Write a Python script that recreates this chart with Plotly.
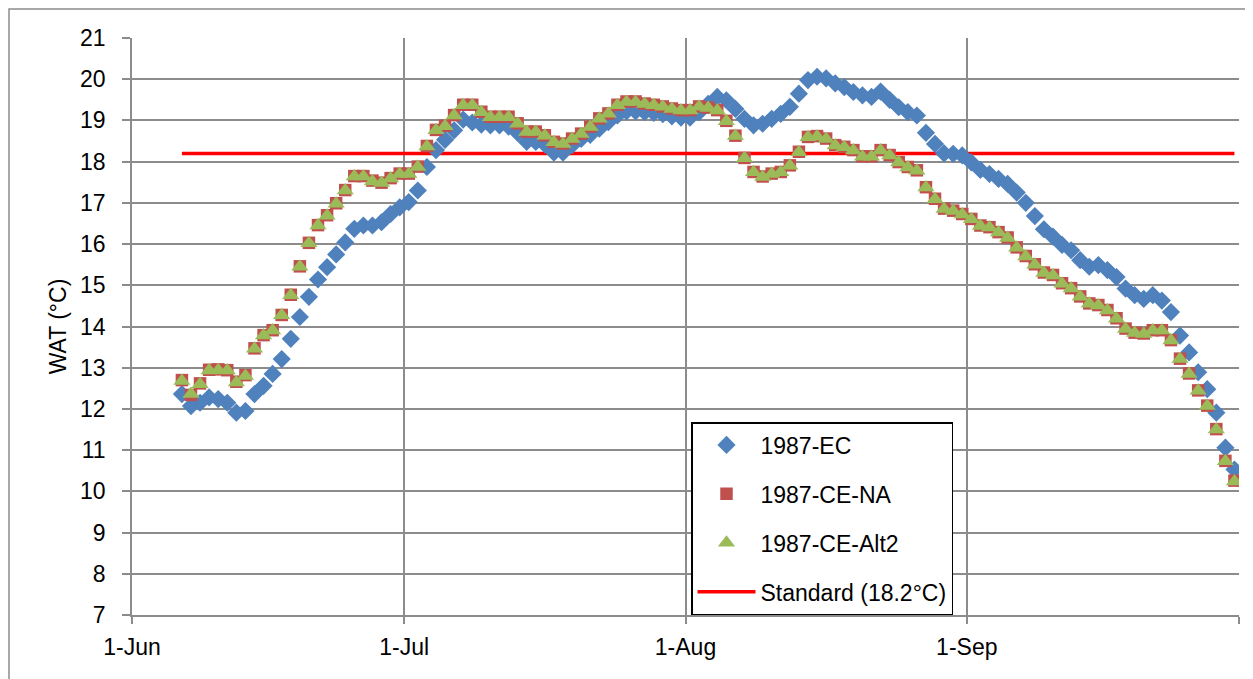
import pandas as pd
import plotly.graph_objects as go

start_date = "1987-06-06 12:00"

ec = [12.36, 12.07, 12.15, 12.28, 12.24, 12.15, 11.91, 11.95, 12.36, 12.56,
      12.85, 13.21, 13.70, 14.23, 14.72, 15.14, 15.44, 15.75, 16.04, 16.37,
      16.45, 16.45, 16.53, 16.73, 16.89, 17.02, 17.30, 17.87, 18.28, 18.53,
      18.76, 19.02, 18.95, 18.90, 18.88, 18.88, 18.85, 18.70, 18.48, 18.48,
      18.42, 18.22, 18.22, 18.40, 18.55, 18.65, 18.80, 18.96, 19.12, 19.22,
      19.22, 19.20, 19.18, 19.15, 19.10, 19.07, 19.07, 19.20, 19.40, 19.57,
      19.49, 19.28, 19.04, 18.88, 18.92, 19.04, 19.16, 19.33, 19.65, 19.98,
      20.06, 20.02, 19.90, 19.81, 19.69, 19.61, 19.57, 19.70, 19.50, 19.32,
      19.20, 19.12, 18.70, 18.43, 18.20, 18.19, 18.15, 17.98, 17.80, 17.70,
      17.58, 17.46, 17.25, 17.00, 16.68, 16.36, 16.18, 15.98, 15.85, 15.61,
      15.45, 15.49, 15.37, 15.20, 14.92, 14.76, 14.67, 14.76, 14.63, 14.35,
      13.78, 13.37, 12.89, 12.48, 11.91, 11.06, 10.53]

ce_na = [12.70, 12.34, 12.62, 12.95, 12.96, 12.94, 12.66, 12.82, 13.47, 13.79,
         13.91, 14.28, 14.77, 15.46, 16.03, 16.46, 16.70, 16.99, 17.31, 17.65,
         17.65, 17.54, 17.49, 17.60, 17.71, 17.71, 17.88, 18.38, 18.77, 18.87,
         19.13, 19.38, 19.38, 19.21, 19.09, 19.09, 19.09, 18.93, 18.73, 18.73,
         18.64, 18.48, 18.44, 18.56, 18.68, 18.85, 19.05, 19.17, 19.38, 19.46,
         19.46, 19.41, 19.38, 19.34, 19.29, 19.25, 19.25, 19.34, 19.31, 19.25,
         18.99, 18.63, 18.09, 17.75, 17.64, 17.71, 17.75, 17.91, 18.24, 18.60,
         18.62, 18.56, 18.40, 18.36, 18.28, 18.13, 18.13, 18.28, 18.16, 17.99,
         17.87, 17.79, 17.38, 17.10, 16.86, 16.81, 16.73, 16.61, 16.45, 16.41,
         16.29, 16.16, 15.92, 15.71, 15.51, 15.31, 15.25, 15.05, 14.93, 14.73,
         14.56, 14.52, 14.40, 14.20, 13.95, 13.85, 13.83, 13.91, 13.91, 13.67,
         13.22, 12.86, 12.45, 12.08, 11.51, 10.74, 10.26]

ce_alt2 = [12.68, 12.36, 12.60, 12.93, 12.94, 12.93, 12.64, 12.80, 13.46, 13.78,
           13.90, 14.27, 14.76, 15.45, 16.02, 16.45, 16.69, 16.98, 17.30, 17.64,
           17.64, 17.52, 17.48, 17.59, 17.70, 17.70, 17.87, 18.37, 18.76, 18.86,
           19.12, 19.37, 19.37, 19.20, 19.08, 19.08, 19.08, 18.92, 18.72, 18.72,
           18.63, 18.47, 18.43, 18.55, 18.67, 18.84, 19.04, 19.16, 19.37, 19.45,
           19.45, 19.40, 19.37, 19.33, 19.28, 19.24, 19.24, 19.33, 19.30, 19.24,
           18.98, 18.62, 18.08, 17.74, 17.63, 17.70, 17.74, 17.90, 18.23, 18.59,
           18.61, 18.55, 18.39, 18.35, 18.27, 18.12, 18.12, 18.27, 18.15, 17.98,
           17.86, 17.78, 17.37, 17.09, 16.85, 16.80, 16.72, 16.60, 16.44, 16.40,
           16.28, 16.15, 15.91, 15.70, 15.50, 15.30, 15.24, 15.04, 14.92, 14.72,
           14.55, 14.51, 14.39, 14.19, 13.94, 13.84, 13.82, 13.90, 13.90, 13.66,
           13.21, 12.85, 12.44, 12.07, 11.50, 10.73, 10.24]

standard_value = 18.2

tick_dates = ["1987-06-01", "1987-07-01", "1987-08-01", "1987-09-01", "1987-10-01"]
tick_labels = ["1-Jun", "1-Jul", "1-Aug", "1-Sep", ""]

dates = pd.date_range(start_date, periods=len(ec), freq="D")

FONT = "Liberation Sans"
GRID = "#8c8c8c"

fig = go.Figure()

fig.add_trace(go.Scatter(
    x=dates, y=[standard_value] * len(dates), mode="lines",
    name="Standard (18.2°C)", line=dict(color="#FF0000", width=3.5),
    legendgroup="d", legendrank=4))
fig.add_trace(go.Scatter(
    x=dates, y=ec, mode="markers", name="1987-EC",
    marker=dict(symbol="diamond", size=14, color="#4F81BD"),
    legendgroup="a", legendrank=1))
fig.add_trace(go.Scatter(
    x=dates, y=ce_na, mode="markers", name="1987-CE-NA",
    marker=dict(symbol="square", size=12.5, color="#C0504D"),
    legendgroup="b", legendrank=2))
fig.add_trace(go.Scatter(
    x=dates, y=ce_alt2, mode="markers", name="1987-CE-Alt2",
    marker=dict(symbol="triangle-up", size=15, color="#9BBB59"),
    legendgroup="c", legendrank=3))

# page body offset (browser default margin)
OFF = 8
# target plot area in screenshot pixels
PX0, PX1, PY0, PY1 = 132, 1239, 38, 615
W, H = 1253 - OFF, 679 - OFF
L, T = PX0 - OFF, PY0 - OFF
R, B = W - (PX1 - OFF), H - (PY1 - OFF)
pw, ph = PX1 - PX0, PY1 - PY0


def px(xs):
    return (xs - PX0) / pw


def py(ys):
    return (PY1 - ys) / ph


fig.update_layout(
    width=W, height=H,
    margin=dict(l=L, r=R, t=T, b=B, pad=0),
    paper_bgcolor="white", plot_bgcolor="white",
    font=dict(family=FONT, size=23, color="black"),
    showlegend=True,
    legend=dict(
        x=px(691), y=py(422), xanchor="left", yanchor="top",
        bgcolor="white", bordercolor="black", borderwidth=1.5,
        font=dict(family=FONT, size=23, color="black"),
        traceorder="grouped", tracegroupgap=16, itemwidth=58,
    ),
    xaxis=dict(
        type="date", range=["1987-06-01", "1987-10-01"],
        tickvals=tick_dates, ticktext=tick_labels,
        showgrid=True, gridcolor=GRID, gridwidth=1.5,
        showline=True, linecolor=GRID, linewidth=1.5,
        ticks="outside", ticklen=7, tickcolor=GRID, tickwidth=1.5,
        ticklabelstandoff=4,
        zeroline=False,
    ),
    yaxis=dict(
        range=[7, 21], dtick=1, tick0=7,
        showgrid=True, gridcolor=GRID, gridwidth=1.5,
        showline=True, linecolor=GRID, linewidth=1.5,
        ticks="outside", ticklen=8, tickcolor=GRID, tickwidth=1.5,
        ticklabelstandoff=12,
        zeroline=False,
        title=dict(text="WAT (°C)", standoff=7,
                   font=dict(family=FONT, size=23, color="black")),
    ),
    shapes=[dict(
        type="rect", xref="paper", yref="paper",
        x0=px(9), x1=px(1290),
        y0=py(720), y1=py(9),
        line=dict(color="#8c8c8c", width=1.5), fillcolor="rgba(0,0,0,0)",
        layer="below",
    )],
)

fig.write_html("out.html")
